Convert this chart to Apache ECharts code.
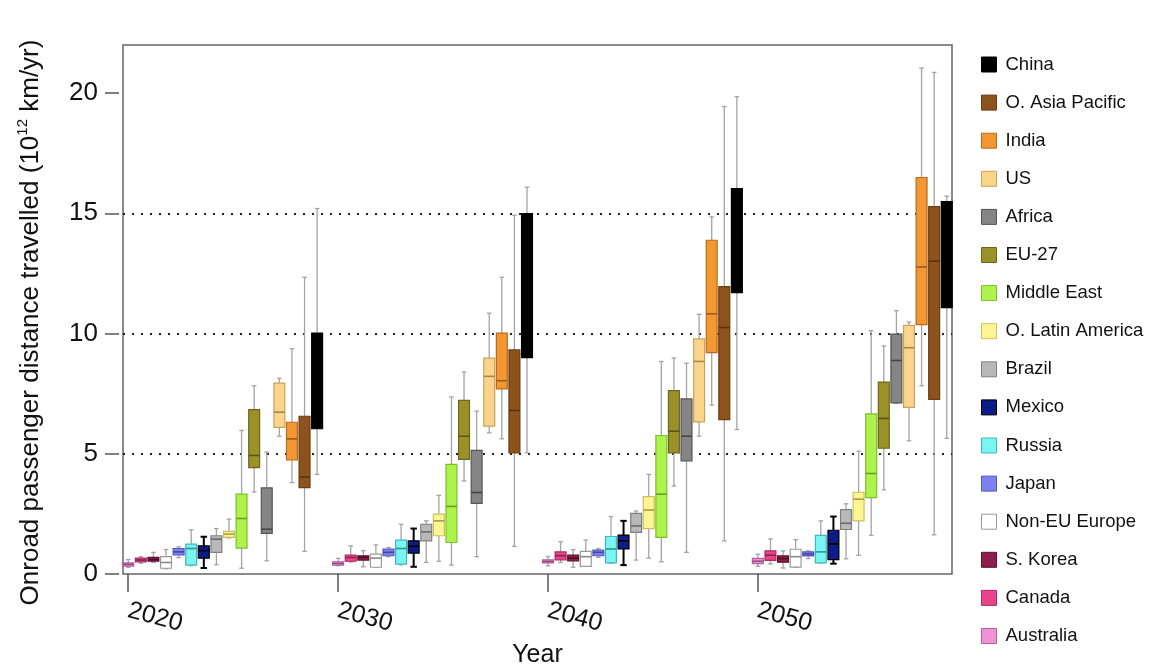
<!DOCTYPE html>
<html>
<head>
<meta charset="utf-8">
<script src="https://cdn.jsdelivr.net/npm/echarts@6/dist/echarts.min.js"></script>
<style>
  html, body { margin: 0; padding: 0; background: #ffffff; }
  #chart { width: 1153px; height: 664px; }
</style>
</head>
<body>
<div id="chart"></div>
<script>
// ---- data: each row = [min, q1, median, q3, max] for 2020, 2030, 2040, 2050 ----
const years = [2020, 2030, 2040, 2050];
const tickLabels = ['2020', '2030', '2040', '2050'];
// regions in left-to-right order inside each year group
const regions = ['Australia', 'Canada', 'S. Korea', 'Non-EU Europe', 'Japan', 'Russia', 'Mexico', 'Brazil',
  'O. Latin America', 'Middle East', 'EU-27', 'Africa', 'US', 'India', 'O. Asia Pacific', 'China'];

const australia = [[0.28, 0.33, 0.40, 0.46, 0.60], [0.35, 0.37, 0.44, 0.51, 0.65], [0.34, 0.46, 0.52, 0.59, 0.73], [0.32, 0.43, 0.53, 0.65, 0.82]];
const canada    = [[0.45, 0.50, 0.58, 0.66, 0.72], [0.50, 0.53, 0.69, 0.79, 1.17], [0.48, 0.59, 0.76, 0.92, 1.34], [0.42, 0.57, 0.78, 0.96, 1.46]];
const sKorea    = [[0.48, 0.53, 0.60, 0.69, 0.90], [0.30, 0.58, 0.69, 0.76, 0.97], [0.28, 0.55, 0.66, 0.79, 1.01], [0.25, 0.49, 0.64, 0.75, 0.96]];
const nonEU     = [[0.22, 0.24, 0.48, 0.72, 1.02], [0.28, 0.28, 0.66, 0.83, 1.21], [0.32, 0.32, 0.72, 0.94, 1.41], [0.29, 0.29, 0.72, 1.03, 1.43]];
const japan     = [[0.68, 0.79, 0.92, 1.06, 1.13], [0.72, 0.76, 0.90, 1.04, 1.10], [0.69, 0.76, 0.90, 0.99, 1.06], [0.64, 0.75, 0.83, 0.92, 0.96]];
const russia    = [[0.35, 0.37, 1.06, 1.24, 1.84], [0.38, 0.41, 1.06, 1.41, 2.07], [0.45, 0.46, 1.04, 1.56, 2.39], [0.46, 0.46, 0.92, 1.61, 2.21]];
const mexico    = [[0.25, 0.66, 0.97, 1.17, 1.55], [0.30, 0.87, 1.15, 1.38, 1.89], [0.37, 1.04, 1.38, 1.62, 2.21], [0.43, 0.60, 1.25, 1.82, 2.39]];
const brazil    = [[0.39, 0.90, 1.45, 1.59, 1.89], [0.48, 1.38, 1.75, 2.07, 2.21], [0.58, 1.73, 2.00, 2.52, 2.62], [0.63, 1.85, 2.11, 2.68, 2.92]];
const oLatin    = [[1.50, 1.52, 1.66, 1.77, 2.28], [0.53, 1.59, 2.21, 2.49, 3.27], [0.66, 1.89, 2.66, 3.22, 4.14], [0.78, 2.21, 3.11, 3.40, 5.11]];
const midEast   = [[0.24, 1.08, 2.31, 3.32, 5.97], [0.37, 1.31, 2.81, 4.56, 7.36], [0.51, 1.52, 3.32, 5.76, 8.84], [1.61, 3.18, 4.18, 6.66, 10.12]];
const eu27      = [[3.41, 4.42, 4.93, 6.84, 7.83], [3.87, 4.77, 5.73, 7.22, 8.40], [3.66, 5.04, 5.94, 7.63, 8.98], [3.50, 5.23, 6.47, 7.98, 9.48]];
const africa    = [[0.55, 1.69, 1.86, 3.58, 5.07], [0.72, 2.94, 3.39, 5.14, 6.77], [0.90, 4.70, 5.73, 7.28, 8.77], [7.10, 7.12, 8.88, 9.98, 10.95]];
const us        = [[5.73, 6.10, 6.73, 7.94, 8.14], [5.87, 6.15, 8.22, 8.98, 10.85], [5.73, 6.33, 8.84, 9.78, 10.80], [5.54, 6.93, 9.41, 10.34, 10.48]];
const india     = [[3.80, 4.74, 5.62, 6.31, 9.37], [5.62, 7.70, 8.04, 10.02, 12.34], [7.02, 9.21, 10.82, 13.88, 14.85], [7.83, 10.37, 12.77, 16.49, 21.04]];
const oAsiaPac  = [[0.94, 3.59, 4.03, 6.56, 12.34], [1.15, 5.04, 6.80, 9.32, 14.92], [1.38, 6.42, 10.25, 11.95, 19.44], [1.63, 7.26, 13.01, 15.28, 20.86]];
const china     = [[4.14, 6.04, 8.00, 10.02, 15.20], [5.04, 9.00, 12.00, 14.99, 16.09], [6.01, 11.70, 14.00, 16.03, 19.85], [5.64, 11.08, 13.30, 15.49, 15.71]];

const regionData = [australia, canada, sKorea, nonEU, japan, russia, mexico, brazil,
  oLatin, midEast, eu27, africa, us, india, oAsiaPac, china];

// ---- styles (fill, border, median, whisker) ----
const styles = {
  'Australia':        { fill: '#ef93d3', stroke: '#b8609f', med: '#944e80', wh: '#a3a3a3' },
  'Canada':           { fill: '#e9448b', stroke: '#ad2a62', med: '#8e2050', wh: '#a3a3a3' },
  'S. Korea':         { fill: '#8e1f4c', stroke: '#5e1030', med: '#4a0c25', wh: '#a3a3a3' },
  'Non-EU Europe':    { fill: '#ffffff', stroke: '#9a9a9a', med: '#8a8a8a', wh: '#a3a3a3' },
  'Japan':            { fill: '#7d82f0', stroke: '#5158c0', med: '#4048a0', wh: '#a3a3a3' },
  'Russia':           { fill: '#79f5f3', stroke: '#3fb9b8', med: '#2e9696', wh: '#a3a3a3' },
  'Mexico':           { fill: '#0c1d8a', stroke: '#000000', med: '#000000', wh: '#000000' },
  'Brazil':           { fill: '#b8b8b8', stroke: '#808080', med: '#6a6a6a', wh: '#a3a3a3' },
  'O. Latin America': { fill: '#fdf591', stroke: '#c9c060', med: '#a59d4a', wh: '#a3a3a3' },
  'Middle East':      { fill: '#aef24c', stroke: '#7fbf2c', med: '#6a9e25', wh: '#a3a3a3' },
  'EU-27':            { fill: '#9b9129', stroke: '#6e661b', med: '#5a5315', wh: '#a3a3a3' },
  'Africa':           { fill: '#858585', stroke: '#555555', med: '#444444', wh: '#a3a3a3' },
  'US':               { fill: '#fad48a', stroke: '#c9a25e', med: '#a8874c', wh: '#a3a3a3' },
  'India':            { fill: '#f39733', stroke: '#b86c1e', med: '#9a5a18', wh: '#a3a3a3' },
  'O. Asia Pacific':  { fill: '#8e531c', stroke: '#6b3d12', med: '#5a320e', wh: '#a3a3a3' },
  'China':            { fill: '#000000', stroke: '#000000', med: '#000000', wh: '#a3a3a3' }
};

const FONT = "'Liberation Sans', Arial, Helvetica, sans-serif";
const SLOT = 0.6;      // spacing of boxes inside a year group (in axis units = years)
const BOX_W = 0.52;
const CAP_W = 0.22;

function makeRenderItem(st, isMexico) {
  return function (params, api) {
    const x = api.value(0);
    const pMin = api.coord([x, api.value(1)]);
    const pQ1 = api.coord([x, api.value(2)]);
    const pMed = api.coord([x, api.value(3)]);
    const pQ3 = api.coord([x, api.value(4)]);
    const pMax = api.coord([x, api.value(5)]);
    const cx = pMin[0];
    const hw = api.size([BOX_W, 0])[0] / 2;
    const cw = api.size([isMexico ? CAP_W * 1.4 : CAP_W, 0])[0] / 2;
    const wLW = isMexico ? 2 : 1.3;
    return {
      type: 'group',
      children: [
        { type: 'line', shape: { x1: cx, y1: pMax[1], x2: cx, y2: pMin[1] }, style: { stroke: st.wh, lineWidth: wLW } },
        { type: 'line', shape: { x1: cx - cw, y1: pMax[1], x2: cx + cw, y2: pMax[1] }, style: { stroke: st.wh, lineWidth: wLW } },
        { type: 'line', shape: { x1: cx - cw, y1: pMin[1], x2: cx + cw, y2: pMin[1] }, style: { stroke: st.wh, lineWidth: wLW } },
        { type: 'rect', shape: { x: cx - hw, y: pQ3[1], width: hw * 2, height: pQ1[1] - pQ3[1] },
          style: { fill: st.fill, stroke: st.stroke, lineWidth: 1.2 } },
        { type: 'line', shape: { x1: cx - hw, y1: pMed[1], x2: cx + hw, y2: pMed[1] }, style: { stroke: st.med, lineWidth: 1.6 } }
      ]
    };
  };
}

const series = regions.map(function (name, k) {
  const st = styles[name];
  const data = years.map(function (yr, g) {
    const v = regionData[k][g];
    return [yr + SLOT * k, v[0], v[1], v[2], v[3], v[4]];
  });
  return {
    name: name,
    type: 'custom',
    renderItem: makeRenderItem(st, name === 'Mexico'),
    itemStyle: { color: st.fill, borderColor: st.stroke, borderWidth: 1 },
    encode: { x: 0, y: [1, 2, 3, 4, 5] },
    data: data,
    z: 3
  };
});

const chart = echarts.init(document.getElementById('chart'));
chart.setOption({
  backgroundColor: '#ffffff',
  animation: false,
  grid: {
    left: 123, right: 201, top: 45, bottom: 90,
    outerBoundsMode: 'none',
    containLabel: false,
    show: true, borderColor: '#666666', borderWidth: 1.5, backgroundColor: 'transparent'
  },
  legend: {
    orient: 'vertical',
    left: 981, top: 55,
    padding: 0,
    icon: 'rect',
    itemWidth: 15, itemHeight: 15,
    itemGap: 19.1,
    itemStyle: { borderWidth: 1 },
    textStyle: { fontFamily: FONT, fontSize: 18.5, color: '#111111', padding: [0, 0, 0, 4] },
    data: regions.slice().reverse()
  },
  xAxis: {
    type: 'value',
    min: 2019.75, max: 2059.25,
    name: 'Year',
    nameLocation: 'middle',
    nameGap: 57,
    nameTextStyle: { fontFamily: FONT, fontSize: 25, color: '#111111' },
    axisLine: { show: false },
    axisTick: { show: true, length: 18, lineStyle: { color: '#555555', width: 1.5 }, customValues: years },
    axisLabel: {
      customValues: years,
      rotate: -15,
      margin: 36,
      fontFamily: FONT, fontSize: 25, color: '#111111',
      formatter: function (v) { return tickLabels[years.indexOf(v)]; }
    },
    splitLine: { show: false }
  },
  yAxis: {
    type: 'value',
    min: 0, max: 22, interval: 5,
    offset: 4,
    name: 'Onroad passenger distance travelled (10{sup|12} km/yr)',
    nameLocation: 'middle',
    nameRotate: 90,
    nameGap: 72,
    nameTextStyle: {
      fontFamily: FONT, fontSize: 26, color: '#111111', lineHeight: 32, padding: [0, 26, 0, 0],
      rich: { sup: { fontFamily: FONT, fontSize: 15, color: '#111111', verticalAlign: 'top', lineHeight: 16 } }
    },
    axisLine: { show: false },
    axisTick: { show: true, length: 14, lineStyle: { color: '#555555', width: 1.5 }, customValues: [0, 5, 10, 15, 20] },
    axisLabel: { customValues: [0, 5, 10, 15, 20], margin: 21, fontFamily: FONT, fontSize: 26, color: '#111111' },
    splitLine: {
      show: true, showMinLine: false, showMaxLine: false,
      lineStyle: { color: '#222222', width: 2.2, type: [2, 7] }
    }
  },
  series: series
});
</script>
</body>
</html>
